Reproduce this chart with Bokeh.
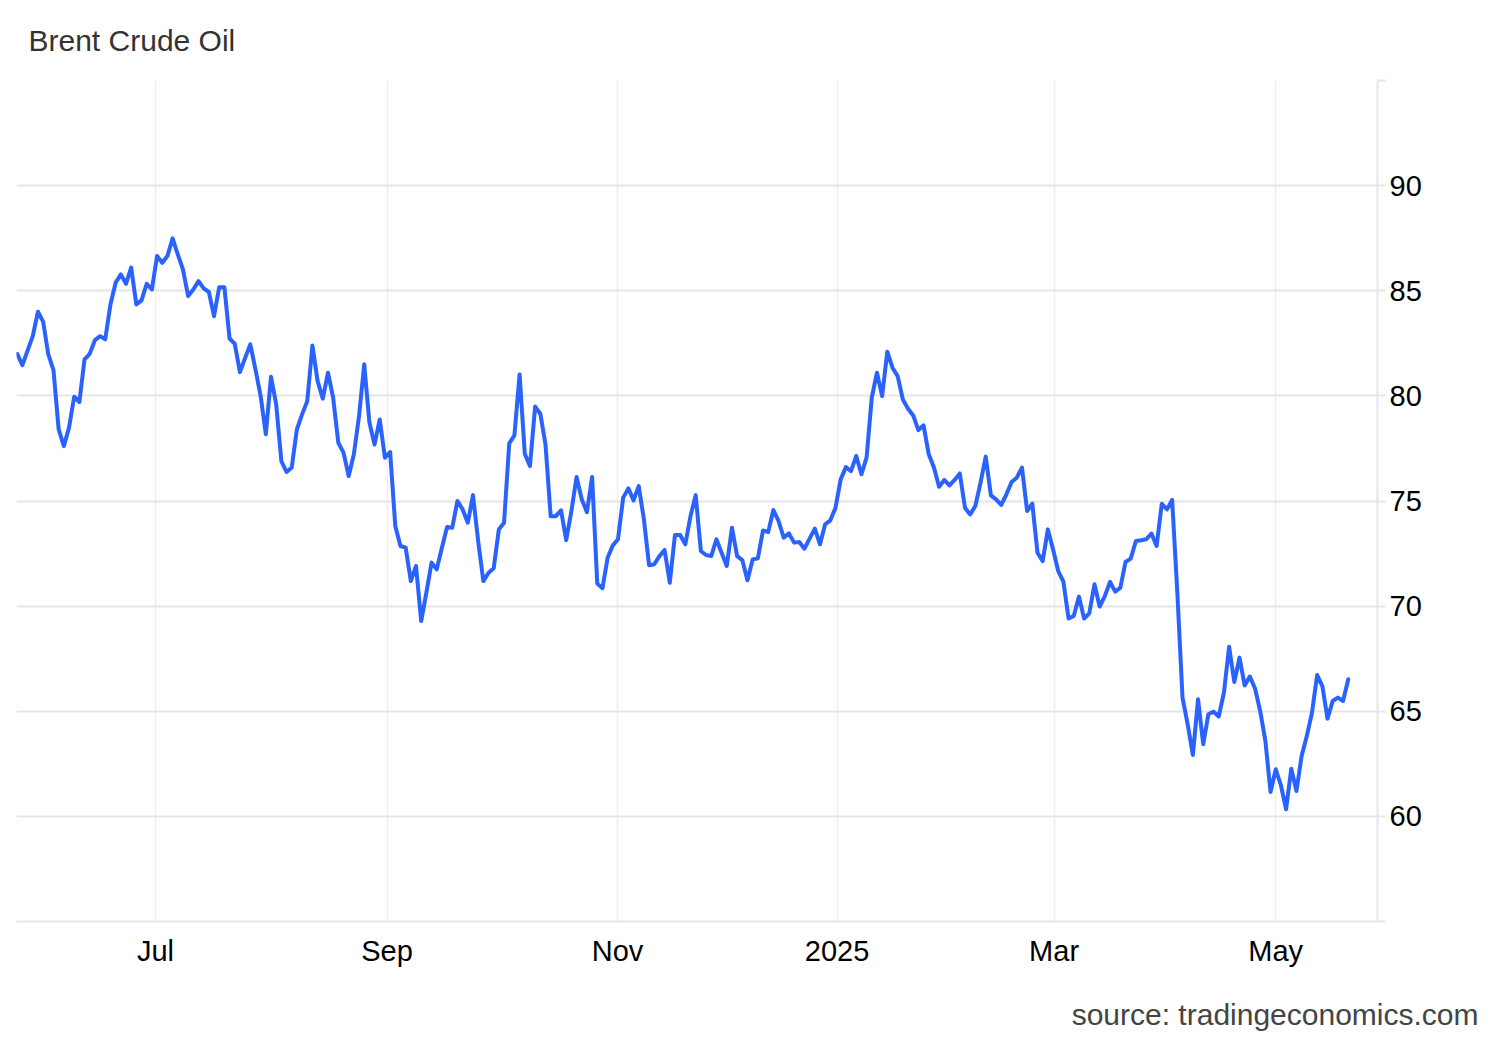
from bokeh.plotting import figure
from bokeh.models import Range1d, FixedTicker, Title
from bokeh.embed import file_html
from bokeh.resources import INLINE

# Brent crude daily closes (USD/bbl), one value per trading day
prices = [
    82.0, 81.46, 82.15, 82.84, 84.0, 83.53, 81.97, 81.23, 78.41, 77.61,
    78.49, 79.96, 79.71, 81.74, 82.0, 82.65, 82.84, 82.69, 84.35, 85.38,
    85.78, 85.33, 86.1, 84.35, 84.54, 85.33, 85.06, 86.65, 86.33, 86.65,
    87.49, 86.73, 86.02, 84.75, 85.06, 85.46, 85.11, 84.94, 83.79, 85.17,
    85.17, 82.73, 82.48, 81.13, 81.8, 82.45, 81.26, 79.99, 78.17, 80.91,
    79.6, 76.9, 76.38, 76.59, 78.41, 79.12, 79.75, 82.4, 80.7, 79.87,
    81.1, 79.91, 77.77, 77.3, 76.19, 77.22, 79.04, 81.5, 78.73, 77.69,
    78.88, 77.06, 77.33, 73.81, 72.86, 72.78, 71.19, 71.91, 69.29, 70.64,
    72.07, 71.75, 72.78, 73.76, 73.73, 75.0, 74.6, 73.97, 75.28, 73.1,
    71.19, 71.59, 71.8, 73.65, 73.97, 77.74, 78.12, 81.02, 77.25, 76.66,
    79.49, 79.15, 77.69, 74.28, 74.28, 74.56, 73.14, 74.52, 76.14, 75.08,
    74.47, 76.14, 71.07, 70.85, 72.3, 72.89, 73.18, 75.16, 75.6, 75.03,
    75.71, 74.13, 71.94, 71.99, 72.38, 72.67, 71.11, 73.38, 73.38, 72.94,
    74.28, 75.28, 72.62, 72.43, 72.38, 73.18, 72.54, 71.91, 73.73, 72.38,
    72.19, 71.23, 72.22, 72.27, 73.6, 73.52, 74.57, 74.05, 73.26, 73.46,
    73.02, 73.05, 72.73, 73.21, 73.69, 72.94, 73.89, 74.08, 74.68, 76.03,
    76.61, 76.42, 77.14, 76.27, 77.06, 79.91, 81.1, 79.99, 82.1, 81.34,
    80.94, 79.83, 79.39, 79.07, 78.37, 78.6, 77.22, 76.59, 75.68, 76.0,
    75.74, 76.0, 76.31, 74.68, 74.36, 74.76, 75.87, 77.11, 75.27, 75.08,
    74.81, 75.32, 75.9, 76.11, 76.59, 74.52, 74.87, 72.54, 72.14, 73.65,
    72.7, 71.67, 71.16, 69.41, 69.53, 70.45, 69.41, 69.66, 71.04, 69.98,
    70.48, 71.15, 70.69, 70.88, 72.1, 72.26, 73.1, 73.13, 73.18, 73.45,
    72.86, 74.87, 74.6, 75.05, 70.64, 65.65, 64.38, 62.92, 65.57, 63.43,
    64.86, 64.98, 64.75, 65.89, 68.07, 66.39, 67.55, 66.23, 66.65, 66.08,
    65.01, 63.59, 61.16, 62.24, 61.48, 60.34, 62.27, 61.21, 62.87, 63.82,
    64.93, 66.72, 66.2, 64.65, 65.49, 65.65, 65.49, 66.52,
]
trading_day = list(range(len(prices)))

# month starts, expressed in trading-day positions
month_ticks = [26.7, 71.4, 115.9, 158.3, 200.2, 243.0]
month_labels = ["Jul", "Sep", "Nov", "2025", "Mar", "May"]

price_ticks = [55, 60, 65, 70, 75, 80, 85, 90, 95]
price_labels = ["", "60", "65", "70", "75", "80", "85", "90", ""]

FONT = "Liberation Sans"

p = figure(
    width=1492, height=1032,
    output_backend="svg", toolbar_location=None,
    x_range=Range1d(-0.14, 262.65), y_range=Range1d(55, 95),
    y_axis_location="right",
    min_border_left=16, min_border_right=115,
    min_border_top=80, min_border_bottom=111,
)
p.outline_line_color = None
p.background_fill_color = "white"
p.border_fill_color = "white"

p.title.text = "Brent Crude Oil"
p.title.align = "left"
p.title.offset = 12
p.title.vertical_align = "top"
p.title.text_font = FONT
p.title.text_font_size = "30px"
p.title.text_font_style = "normal"
p.title.text_color = "#333333"
p.title.standoff = 43

p.add_layout(Title(text="source: tradingeconomics.com", align="right", offset=-101,
                   text_font=FONT, text_font_size="30px", text_font_style="normal",
                   text_color="#444444", standoff=2), "below")

# axes
xa = p.xaxis[0]
xa.ticker = FixedTicker(ticks=month_ticks)
xa.major_label_overrides = {t: l for t, l in zip(month_ticks, month_labels)}
xa.axis_line_color = "#e6e6e6"
xa.axis_line_width = 2
xa.major_tick_line_color = None
xa.minor_tick_line_color = None
xa.major_label_text_font = FONT
xa.major_label_text_font_size = "29px"
xa.major_label_text_color = "#000000"
xa.major_label_standoff = 7
# blank spacer line between month labels and the source note
xa.axis_label = " "
xa.axis_label_text_font_size = "20px"
xa.axis_label_standoff = 0

ya = p.yaxis[0]
ya.ticker = FixedTicker(ticks=price_ticks)
ya.major_label_overrides = {t: l for t, l in zip(price_ticks, price_labels)}
ya.axis_line_color = "#e6e6e6"
ya.axis_line_width = 2
ya.major_tick_line_color = "#e6e6e6"
ya.major_tick_line_width = 2
ya.major_tick_out = 8
ya.major_tick_in = 0
ya.minor_tick_line_color = None
ya.major_label_text_font = FONT
ya.major_label_text_font_size = "29px"
ya.major_label_text_color = "#000000"
ya.major_label_standoff = 4

p.xgrid.ticker = FixedTicker(ticks=month_ticks)
p.xgrid.grid_line_color = "#efefef"
p.xgrid.grid_line_width = 1.5
p.ygrid.ticker = FixedTicker(ticks=price_ticks)
p.ygrid.grid_line_color = "#e6e6e6"
p.ygrid.grid_line_width = 2

p.line(trading_day, prices, line_color="#2962ff", line_width=4,
       line_join="round", line_cap="round")

open("out.html", "w").write(file_html(p, INLINE))
